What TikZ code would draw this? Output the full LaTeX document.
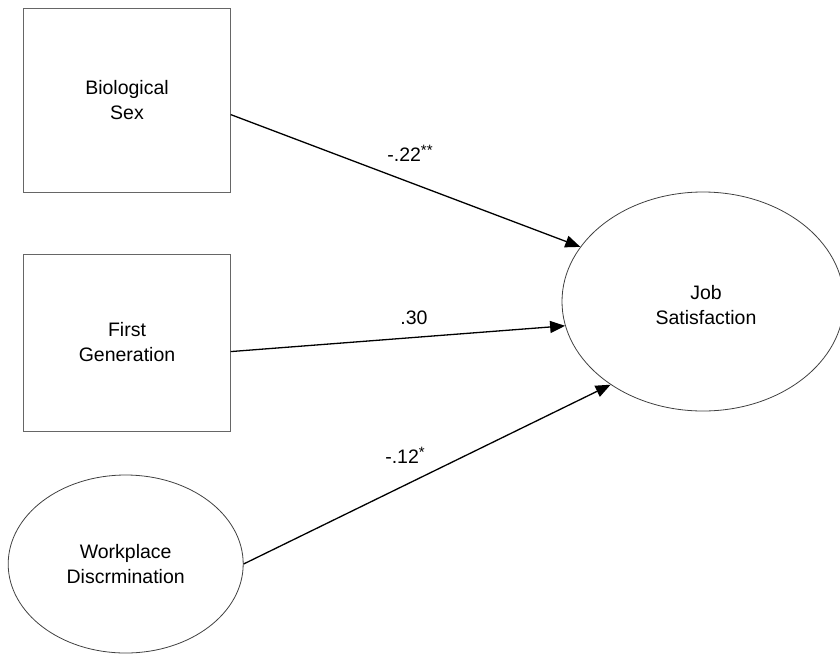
\documentclass[tikz,border=0pt]{standalone}
\usepackage{fontspec}
\setmainfont{Liberation Sans}
\usetikzlibrary{shapes.geometric,arrows.meta}
\newcommand{\sigstars}[1]{\raisebox{0.32em}{\fontsize{15}{15}\selectfont #1}}
\begin{document}
\begin{tikzpicture}[x=1pt,y=-1pt,
  every node/.style={font=\fontsize{19.5}{25}\selectfont, align=center},
  obsbox/.style={draw=black!60, line width=0.9pt, rectangle, inner sep=0pt},
  latent/.style={draw=black!75, line width=0.8pt, ellipse, inner sep=0pt},
  path/.style={line width=1.3pt, -{Triangle[length=15pt,width=12pt]}},
  coef/.style={inner sep=0pt}]
\useasboundingbox (0,0) rectangle (840,654);
\node[obsbox, minimum width=206.5pt, minimum height=184pt] (bio) at (127,100) {Biological\\Sex};
\node[obsbox, minimum width=206.5pt, minimum height=177pt] (first) at (127,342.5) {First\\Generation};
\node[latent, minimum width=235pt, minimum height=178pt] (work) at (125.7,564) {Workplace\\Discrmination};
\node[latent, minimum width=282pt, minimum height=219pt] (job) at (703,301.5) {};
\node (jobtext) at (706,305) {Job\\Satisfaction};
\draw[path] (bio.-8.3) -- (job.156.8);
\draw[path] (first.-5.3) -- (job.190.1);
\draw[path] (work.east) -- (job.222.5);
\node[coef] (c1) at (410,153) {-.22\sigstars{**}};
\node[coef] (c2) at (414,318) {.30};
\node[coef] (c3) at (405,455) {-.12\sigstars{*}};
\end{tikzpicture}
\end{document}
